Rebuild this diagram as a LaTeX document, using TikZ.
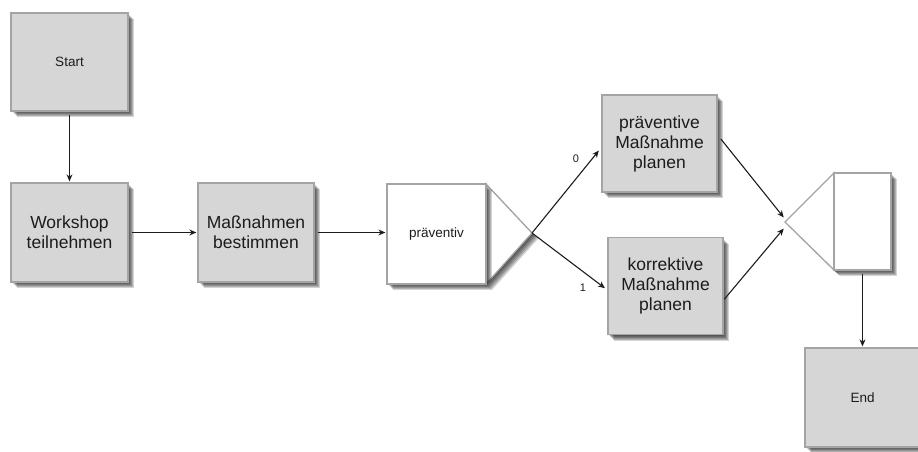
\documentclass[tikz,border=0pt]{standalone}
\usepackage{fontspec}
\setmainfont{Liberation Sans}
\usetikzlibrary{arrows.meta,calc}
\definecolor{boxfill}{HTML}{D6D6D6}
\definecolor{boxline}{HTML}{A4A4A4}
\definecolor{ink}{HTML}{1C1C1C}
\tikzset{
  % soft shadow built from stacked translucent copies, shifted down-right
  shdlayer/.style={preaction={fill=black, opacity=0.17, draw=none,
      transform canvas={shift={(#1,-#1)}}}},
  shade3/.style={shdlayer=1pt, shdlayer=2pt, shdlayer=3pt, shdlayer=4pt, shdlayer=5pt, shdlayer=6pt},
  task/.style={draw=boxline, line width=1.3pt, fill=boxfill, shade3, text=ink,
    inner sep=0pt, align=center, font=\fontsize{17.5}{20}\selectfont},
  event/.style={task, font=\fontsize{13.5}{16}\selectfont},
  gatebox/.style={draw=boxline, line width=1.3pt, fill=white, shade3, text=ink,
    inner sep=0pt, align=center, font=\fontsize{13.5}{16}\selectfont},
  gatetri/.style={draw=boxline, line width=1.3pt, fill=white, shade3, line join=miter},
  flow/.style={draw=ink, line width=1.1pt, -{Stealth[length=7pt,width=6pt]}},
  branch/.style={text=ink, font=\fontsize{11}{13}\selectfont},
}
\begin{document}
\begin{tikzpicture}[x=1pt, y=-1pt]
\useasboundingbox (0,0) rectangle (918,452);
\begin{scope}
\clip (0,0) rectangle (918,452);
% activities and events
\node[event, minimum width=117pt, minimum height=98pt] (start) at (69.5,62) {Start};
\node[task, minimum width=117pt, minimum height=99pt] (workshop) at (69.5,232.5) {Workshop\\teilnehmen};
\node[task, minimum width=116pt, minimum height=99pt] (measures) at (256,232.5) {Maßnahmen\\bestimmen};

% split gateway: box with a triangle on its right
\coordinate (splitTip) at (532,233);
\path[gatetri] (486,184) -- (splitTip) -- (486,284) -- cycle;
\node[gatebox, minimum width=99pt, minimum height=100pt] (split) at (436.5,234) {präventiv};

\node[task, minimum width=115pt, minimum height=97pt] (prevPlan) at (659.5,143.5) {präventive\\Maßnahme\\planen};
\node[task, minimum width=115pt, minimum height=97pt] (corrPlan) at (665.5,286) {korrektive\\Maßnahme\\planen};

% merge gateway: triangle on the left of an empty box
\coordinate (mergeTip) at (785,222);
\path[gatetri] (834,173) -- (mergeTip) -- (834,270) -- cycle;
\node[gatebox, minimum width=57pt, minimum height=97pt] (merge) at (862.5,221.5) {};

\node[event, minimum width=115pt, minimum height=99pt] (end) at (862.5,397.5) {End};

% connectors
\draw[flow, shorten <=3pt, shorten >=1pt] (start.south) -- (workshop.north);
\draw[flow, shorten <=3pt, shorten >=1pt] (workshop.east) -- (measures.west);
\draw[flow, shorten <=3pt, shorten >=1pt] (measures.east) -- (measures.east -| split.west);
\draw[flow, shorten >=4pt] (splitTip) -- ($(prevPlan.west)+(0,4)$);
\draw[flow, shorten >=3pt] (splitTip) -- ($(corrPlan.west)+(0,4)$);
\draw[flow, shorten <=2pt, shorten >=2pt] ($(prevPlan.east)+(2,-6)$) -- ($(mergeTip)+(0,-3)$);
\draw[flow, shorten <=1pt, shorten >=2pt] ($(corrPlan.east)+(0,14)$) -- ($(mergeTip)+(0,5)$);
\draw[flow, shorten <=3pt, shorten >=1pt] (merge.south) -- (end.north);

\node[branch] (lblzero) at (576,159) {0};
\node[branch] (lblone) at (583,288) {1};
\end{scope}
\end{tikzpicture}
\end{document}
